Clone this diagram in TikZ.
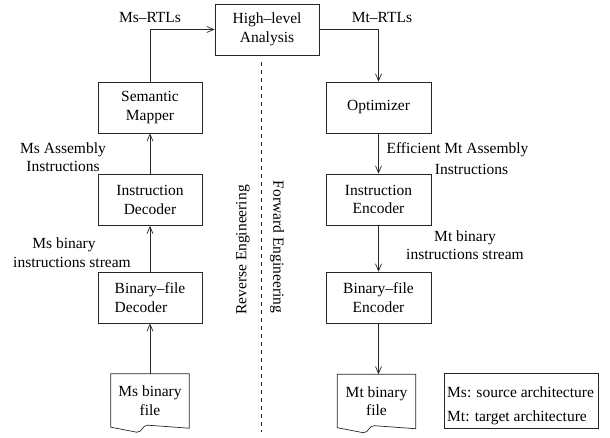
\documentclass[tikz,border=0pt]{standalone}
\usepackage{fontspec}
\setmainfont{Liberation Serif}
\usetikzlibrary{arrows.meta,calc}
\newcommand\docshape[1]{%
  \draw[line] (#1.north west) -- (#1.north east) -- ($(#1.south east)+(0,1)$)
    -- ($(#1.south west)+(37,-2)$) .. controls ($(#1.south west)+(31,-2)$) and ($(#1.south west)+(32,5)$) .. ($(#1.south west)+(26,5)$)
    -- (#1.south west) -- cycle;}
\begin{document}
\begin{tikzpicture}[x=1pt,y=-1pt,
  every node/.style={font=\fontsize{15.5pt}{18.5pt}\selectfont, inner sep=1pt},
  line/.style={line width=0.7pt, draw=black!85},
  box/.style={line, draw, rectangle, minimum width=104pt, minimum height=51pt, align=center},
  docnode/.style={rectangle, minimum width=78pt, minimum height=53pt, align=center},
  arr/.style={line, -{Straight Barb[length=7pt,width=6pt]}},
  lbl/.style={align=center}]
\useasboundingbox (0,0) rectangle (610,437);
% boxes
\node[box] (hla) at (267,29.5) {High--level\\Analysis};
\node[box] (sm) at (150,107.5) {Semantic\\Mapper};
\node[box] (id) at (150,200) {Instruction\\Decoder};
\node[box, align=left] (bd) at (150,297.5) {Binary--file\\Decoder};
\node[box, minimum width=105pt] (opt) at (378.5,107.5) {Optimizer};
\node[box, minimum width=105pt] (ie) at (378.5,199.5) {Instruction\\Encoder};
\node[box, minimum width=105pt] (be) at (378.5,297.5) {Binary--file\\Encoder};
\node[docnode] (msfile) at (150,400.5) {Ms binary\\file};
\node[docnode] (mtfile) at (376.5,401) {Mt binary\\file};
\docshape{msfile}
\docshape{mtfile}
% legend
\node[line, draw, rectangle, minimum width=154pt, minimum height=55pt] (legend) at (521,400.5) {};
\node[anchor=west] (leg1) at (446,392) {Ms: source architecture};
\node[anchor=west] (leg2) at (446,418) {Mt: target architecture};
% connectors
\draw[arr] (msfile.north) -- (bd.south);
\draw[arr] (bd.north) -- (id.south);
\draw[arr] (id.north) -- (sm.south);
\draw[arr] (sm.north) |- (hla.west);
\draw[arr] (hla.east) -| (opt.north);
\draw[arr] (opt.south) -- (ie.north);
\draw[arr] (ie.south) -- (be.north);
\draw[arr] (be.south) -- (be.south |- mtfile.north);
% separator
\coordinate (dtop) at (261,62);
\coordinate (dbot) at (261,432);
\draw[line, dash pattern=on 4pt off 4pt] (dtop) -- (dbot);
% labels
\node[lbl] (l1) at (150,17) {Ms--RTLs};
\node[lbl] (l2) at (382,17) {Mt--RTLs};
\node[lbl] (l3) at (63,157) {Ms Assembly\\Instructions};
\node[lbl] (l4) at (72,252.5) {Ms binary\hspace*{16pt}\\instructions stream};
\node[lbl] (l5) at (457.5,158.5) {Efficient Mt Assembly\\[2.5pt]\hspace*{28pt}Instructions};
\node[lbl] (l6) at (465,245) {Mt binary\\instructions stream};
\node[rotate=90] (re) at (243,250) {Reverse Engineering};
\node[rotate=-90] (fe) at (277,247) {Forward Engineering};
\end{tikzpicture}
\end{document}
